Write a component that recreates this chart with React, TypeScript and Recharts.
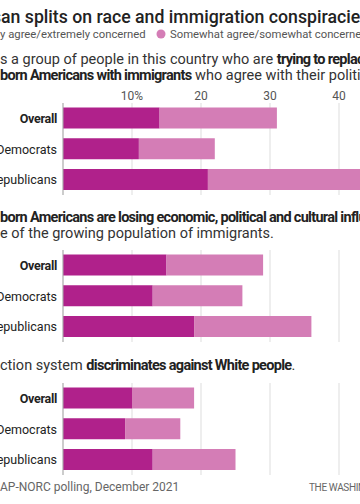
import React from 'react';
import { BarChart, Bar, XAxis, YAxis, CartesianGrid, ReferenceLine } from 'recharts';

const groups = ['Overall', 'Democrats', 'Republicans'];

// "trying to replace native-born Americans with immigrants"
const replaceStrong = [14, 11, 21];
const replaceSomewhat = [17, 11, 26];

// "native-born Americans are losing ... influence"
const influenceStrong = [15, 13, 19];
const influenceSomewhat = [14, 13, 17];

// "... system discriminates against White people"
const discrimStrong = [10, 9, 13];
const discrimSomewhat = [9, 8, 12];

const xTicks = [0, 10, 20, 30, 40, 50];

const DARK = '#b0218b';
const LIGHT = '#d47db6';
const FONT = 'Roboto, "Noto Sans", sans-serif';

const GroupTick = (props: any) => {
  const { x, y, payload } = props;
  const bold = payload.value === 'Overall';
  return (
    <text
      x={x}
      y={y}
      dy="0.36em"
      textAnchor="end"
      fontSize={12.5}
      fontFamily={FONT}
      fontWeight={bold ? 700 : 400}
      letterSpacing={bold ? -0.3 : 0}
      fill="#222"
    >
      {payload.value}
    </text>
  );
};

interface PanelProps {
  top: number;
  strong: number[];
  somewhat: number[];
  showAxis?: boolean;
}

const Panel = ({ top, strong, somewhat, showAxis = false }: PanelProps) => {
  const data = groups.map((g, i) => ({ group: g, strong: strong[i], somewhat: somewhat[i] }));
  const axisH = showAxis ? 20 : 0;

  return (
    <div style={{ position: 'absolute', left: 0, top: top - axisH }}>
      <BarChart
        width={420}
        height={92 + axisH}
        data={data}
        layout="vertical"
        margin={{ top: 0, right: 12, bottom: 0, left: 0 }}
        barCategoryGap="15%"
      >
        <CartesianGrid horizontal={false} stroke="#dddddd" />
        <XAxis
          type="number"
          orientation="top"
          domain={[0, 50]}
          ticks={xTicks}
          hide={!showAxis}
          height={axisH}
          axisLine={false}
          tickLine={false}
          tickSize={0}
          tickMargin={3}
          tick={{ fontSize: 12, fill: '#555', fontFamily: FONT }}
          tickFormatter={(v: number) => (v === 0 || v === 50 ? '' : v === 10 ? '10%' : String(v))}
        />
        <YAxis
          type="category"
          dataKey="group"
          width={63}
          axisLine={false}
          tickLine={false}
          tickSize={0}
          tickMargin={6}
          tick={<GroupTick />}
        />
        <ReferenceLine x={0} stroke="#aaaaaa" />
        <Bar dataKey="strong" stackId="a" fill={DARK} isAnimationActive={false} />
        <Bar dataKey="somewhat" stackId="a" fill={LIGHT} isAnimationActive={false} />
      </BarChart>
    </div>
  );
};

// text that is cut at the left edge: prefix hangs off the page
const Cut = ({ x, y, prefix, children, size, weight = 400, fill = '#333', spacing = 0 }: any) => (
  <>
    <text x={x} y={y} textAnchor="end" fontSize={size} fontWeight={weight} fill={fill} letterSpacing={spacing}>
      {prefix}
    </text>
    <text x={x} y={y} fontSize={size} fontWeight={weight} fill={fill} letterSpacing={spacing}>
      {children}
    </text>
  </>
);

const B = ({ children }: any) => (
  <tspan fontWeight={700} fill="#222" letterSpacing={-0.7}>
    {children}
  </tspan>
);

export default function App() {
  return (
    <div
      style={{
        position: 'absolute',
        left: 0,
        top: 0,
        width: 360,
        height: 504,
        overflow: 'hidden',
        background: '#fff',
        fontFamily: FONT,
      }}
    >
      <svg width={360} height={504} style={{ position: 'absolute', left: 0, top: 0 }} fontFamily={FONT}>
        <Cut x={1} y={22.5} prefix="Partis" size={17.7} weight={500} fill="#222">
          an splits on race and immigration conspiracies
        </Cut>

        <circle cx={-6} cy={34} r={4.5} fill={DARK} />
        <Cut x={0} y={38} prefix="Strongl" size={11.3} fill="#555">
          y agree/extremely concerned
        </Cut>
        <circle cx={161} cy={34} r={4.5} fill={LIGHT} />
        <text x={170} y={38} fontSize={11.3} fill="#555">
          Somewhat agree/somewhat concerned
        </text>

        <Cut x={0} y={64} prefix="There i" size={14.5}>
          s a group of people in this country who are <B>trying to replace native-</B>
        </Cut>
        <Cut x={0} y={79.5} prefix="native-" size={14.5}>
          <B>born Americans with immigrants</B> who agree with their political views.
        </Cut>

        <Cut x={0} y={222} prefix="Native-" size={14.5}>
          <B>born Americans are losing economic, political and cultural influence</B>
        </Cut>
        <Cut x={0} y={238} prefix="in this country becaus" size={14.5}>
          e of the growing population of immigrants.
        </Cut>

        <Cut x={0} y={370} prefix="The ele" size={14.5}>
          ction system <B>discriminates against White people</B>.
        </Cut>

        <Cut x={0} y={491} prefix="Source: " size={12} fill="#666">
          AP-NORC polling, December 2021
        </Cut>
        <text x={309} y={491} fontSize={10} fill="#666" letterSpacing={-0.35}>
          THE WASHINGTON POST
        </text>
      </svg>

      <Panel top={103} strong={replaceStrong} somewhat={replaceSomewhat} showAxis />
      <Panel top={250} strong={influenceStrong} somewhat={influenceSomewhat} />
      <Panel top={383} strong={discrimStrong} somewhat={discrimSomewhat} />
    </div>
  );
}
